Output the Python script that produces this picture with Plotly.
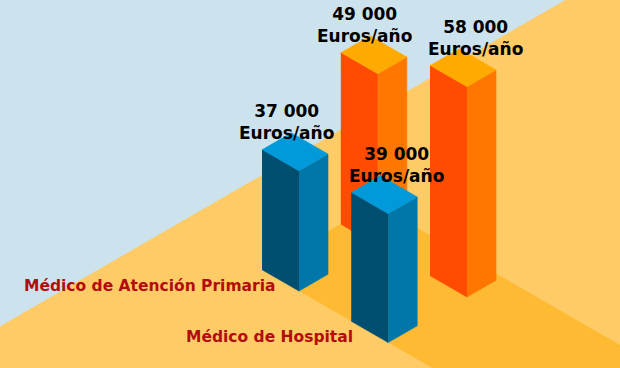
import math
import plotly.graph_objects as go

# ---------------- data ----------------
categories = ["Médico de Atención Primaria", "Médico de Hospital"]
series_names = ["Serie azul", "Serie naranja"]
values_blue = [37000, 39000]
values_orange = [49000, 58000]
unit_label = "Euros/año"

# ---------------- styles / geometry ----------------
W, H = 620, 368
OX, OY = 299.0, 291.0          # screen position of floor origin
C30, S30 = math.cos(math.radians(30)), math.sin(math.radians(30))
ROW_STEP = 103.0               # floor spacing between categories (u direction)
COL_STEP = 91.0                # floor spacing between series (v direction)
DEPTH_U = 42.7                 # bar footprint along u
WIDTH_V = 33.5                 # bar footprint along v
AXIS_MIN = 9000                # value axis start
PX_PER_UNIT = 4.293 / 1000.0   # pixels per euro

BG_BLUE = "#CCE3ED"
FLOOR = "#FECB66"
BAND = "#FFBA33"
FACE_COLORS = [
    {"left": "#004F70", "right": "#0077A8", "top": "#0099D9"},
    {"left": "#FF4C00", "right": "#FF7700", "top": "#FFAA00"},
]
LABEL_DX = [-5, 16]
CAT_DX = [-22, -33]
CAT_DY = [-5, -6]


def proj(u, v, h=0.0):
    return OX + C30 * (u + v), OY + S30 * (u - v) - h


def height(val):
    return PX_PER_UNIT * (val - AXIS_MIN)


def poly(fig, pts, color):
    xs = [p[0] for p in pts]
    ys = [p[1] for p in pts]
    fig.add_trace(go.Scatter(
        x=xs, y=ys, mode="lines", fill="toself", fillcolor=color,
        line=dict(color=color, width=0.6), hoverinfo="skip", showlegend=False))


fig = go.Figure()

# floor
poly(fig, [proj(-137, -500), proj(-137, 700), proj(900, 700), proj(900, -500)], FLOOR)
# darker band under the bars
poly(fig, [proj(-DEPTH_U, 0), proj(-DEPTH_U, 131), proj(900, 131), proj(900, 0)], BAND)

series = [values_blue, values_orange]
bars = []
for r in range(len(categories)):
    for c, vals in enumerate(series):
        u, v = r * ROW_STEP, c * COL_STEP
        bars.append((r, c, u, v, vals[r]))
# painter's order: back to front
bars.sort(key=lambda b: proj(b[2], b[3])[1])

annotations = []
for r, c, u, v, val in bars:
    h = height(val)
    col = FACE_COLORS[c]
    lb, fb, rb = proj(u - DEPTH_U, v), proj(u, v), proj(u, v + WIDTH_V)
    lt, ft, rt, bt = (proj(u - DEPTH_U, v, h), proj(u, v, h),
                      proj(u, v + WIDTH_V, h), proj(u - DEPTH_U, v + WIDTH_V, h))
    poly(fig, [lb, fb, ft, lt], col["left"])
    poly(fig, [fb, rb, rt, ft], col["right"])
    poly(fig, [lt, ft, rt, bt], col["top"])
    txt = f"{val:,}".replace(",", " ")
    annotations.append(dict(
        x=bt[0] + LABEL_DX[r], y=bt[1] - 11, xref="x", yref="y",
        text=f"<b>{txt}<br>{unit_label}</b>", showarrow=False,
        xanchor="center", yanchor="middle",
        font=dict(family="DejaVu Sans", size=17, color="#000000")))

for r, name in enumerate(categories):
    fx, fy = proj(r * ROW_STEP, 0)
    annotations.append(dict(
        x=fx + CAT_DX[r], y=fy + CAT_DY[r], xref="x", yref="y",
        text=f"<b>{name}</b>", showarrow=False, xanchor="right", yanchor="middle",
        font=dict(family="DejaVu Sans", size=15.5, color="#B30C0C")))

fig.update_layout(
    width=W, height=H, margin=dict(l=0, r=0, t=0, b=0),
    paper_bgcolor=BG_BLUE, plot_bgcolor=BG_BLUE,
    xaxis=dict(range=[0, W], visible=False, fixedrange=True),
    yaxis=dict(range=[H, 0], visible=False, fixedrange=True),
    annotations=annotations, showlegend=False,
)

fig.write_html(
    "out.html", config={"displayModeBar": False},
    post_script="document.body.style.margin='0';document.body.style.overflow='hidden';",
)
